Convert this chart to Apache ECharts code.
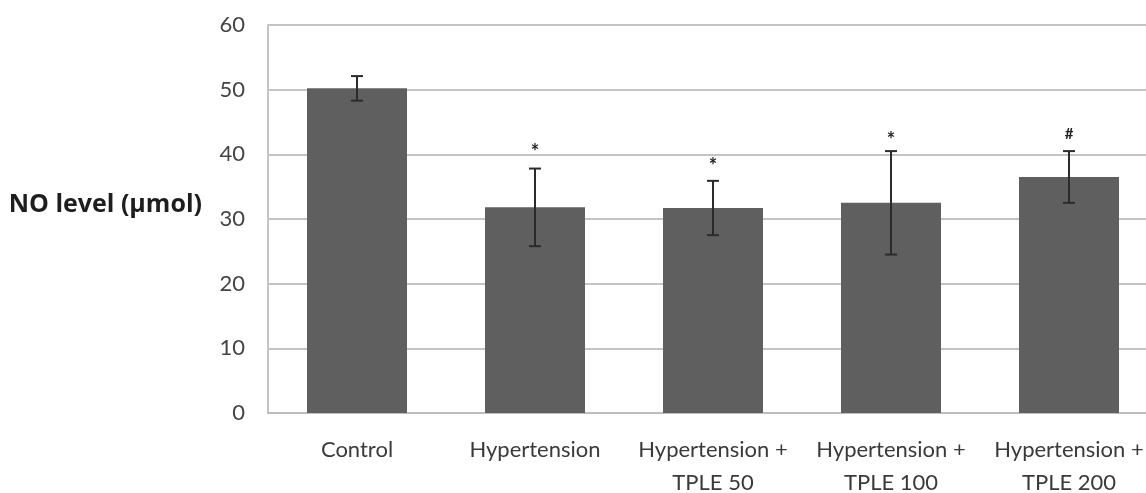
<!DOCTYPE html>
<html>
<head>
<meta charset="utf-8">
<script src="https://cdn.jsdelivr.net/npm/echarts@6/dist/echarts.min.js"></script>
<style>
html,body{margin:0;padding:0;background:#fff;}
#chart{width:1146px;height:493px;}
</style>
</head>
<body>
<div id="chart"></div>
<script>
const categories = ['Control', 'Hypertension', 'Hypertension +\nTPLE 50', 'Hypertension +\nTPLE 100', 'Hypertension +\nTPLE 200'];
const means = [50.2, 31.8, 31.7, 32.5, 36.5];
const errors = [1.9, 6.0, 4.2, 8.0, 4.0];
const marks = ['', '*', '*', '*', '#'];
const markGap = [0, 23, 21, 18, 18];
const yTicks = [0, 10, 20, 30, 40, 50, 60];
const yTitle = 'NO level (µmol)';

const FONT = 'Lato, "Open Sans", sans-serif';
const chart = echarts.init(document.getElementById('chart'));

const errData = means.map((m, i) => [i, m - errors[i], m + errors[i], marks[i], markGap[i]]);

chart.setOption({
  animation: false,
  backgroundColor: '#fff',
  grid: { left: 268, top: 25, bottom: 80, width: 890, containLabel: false, outerBoundsMode: 'none' },
  graphic: [{
    type: 'text',
    style: {
      text: yTitle, x: 202, y: 205, align: 'right', verticalAlign: 'middle',
      fill: '#1e1e1e', font: 'bold 25px "Open Sans", Lato, sans-serif'
    }
  }],
  xAxis: {
    type: 'category',
    data: categories,
    axisLine: { lineStyle: { color: '#bdbdbd', width: 2 } },
    axisTick: { show: false },
    axisLabel: { color: '#3a3a3a', fontFamily: FONT, fontSize: 22, margin: 20, lineHeight: 33, interval: 0 }
  },
  yAxis: {
    type: 'value',
    min: yTicks[0], max: yTicks[yTicks.length - 1], interval: 10,
    axisLine: { show: true, lineStyle: { color: '#c4c4c4', width: 2 } },
    axisTick: { show: false },
    splitLine: { lineStyle: { color: '#c4c4c4', width: 2 } },
    axisLabel: { color: '#444', fontFamily: FONT, fontSize: 22, margin: 23 }
  },
  series: [
    {
      type: 'bar',
      data: means,
      barWidth: 100,
      itemStyle: { color: '#5f5f5f' },
      z: 2
    },
    {
      type: 'custom',
      data: errData,
      z: 5,
      renderItem: function (params, api) {
        const x = api.value(0);
        const lo = api.coord([x, api.value(1)]);
        const hi = api.coord([x, api.value(2)]);
        const cap = 6;
        const style = { stroke: '#2b2b2b', lineWidth: 2 };
        const children = [
          { type: 'line', shape: { x1: lo[0], y1: lo[1], x2: hi[0], y2: hi[1] }, style: style },
          { type: 'line', shape: { x1: hi[0] - cap, y1: hi[1], x2: hi[0] + cap, y2: hi[1] }, style: style },
          { type: 'line', shape: { x1: lo[0] - cap, y1: lo[1], x2: lo[0] + cap, y2: lo[1] }, style: style }
        ];
        const m = api.value(3);
        if (m) {
          const isStar = m === '*';
          children.push({
            type: 'text',
            style: {
              text: m, x: hi[0], y: hi[1] - api.value(4) + (isStar ? 7 : 1),
              align: 'center', verticalAlign: 'middle',
              fill: '#222', font: 'bold ' + (isStar ? 20 : 15) + 'px ' + FONT
            }
          });
        }
        return { type: 'group', children: children };
      }
    }
  ]
});
</script>
</body>
</html>
